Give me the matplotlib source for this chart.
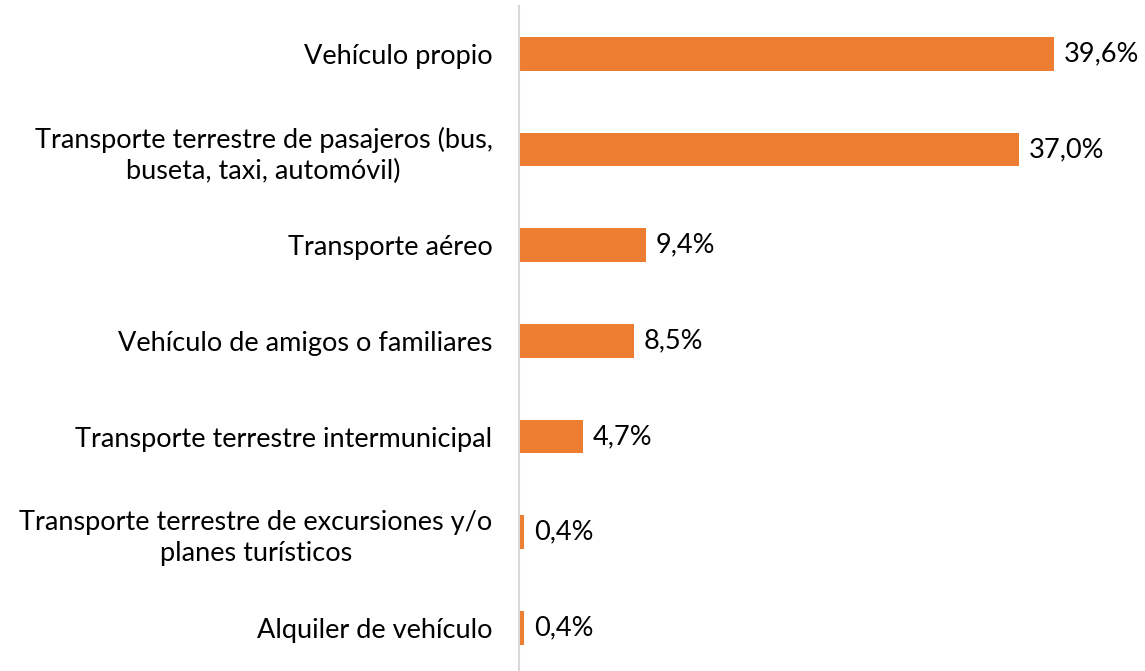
import matplotlib
matplotlib.use("Agg")
import matplotlib.pyplot as plt

# data
categories = [
    "Vehículo propio",
    "Transporte terrestre de pasajeros (bus,\nbuseta, taxi, automóvil)",
    "Transporte aéreo",
    "Vehículo de amigos o familiares",
    "Transporte terrestre intermunicipal",
    "Transporte terrestre de excursiones y/o\nplanes turísticos",
    "Alquiler de vehículo",
]
values = [39.6, 37.0, 9.4, 8.5, 4.7, 0.4, 0.4]

plt.rcParams['font.family'] = ['Lato', 'DejaVu Sans']

W, H = 1145, 671
fig = plt.figure(figsize=(W / 100, H / 100), dpi=100)
left = 519 / W
top = 6 / H
ax = fig.add_axes([left, -0.007, 1 - left, 1 - top + 0.007])

pos = list(range(len(categories)))
ax.barh(pos, values, height=0.35, color="#ED7D31")
ax.set_ylim(len(categories) - 0.5, -0.5)
ax.set_xlim(0, 46.3)

for y, v in zip(pos, values):
    ax.annotate(f"{v:.1f}%".replace(".", ","), (v, y), xytext=(7, 0),
                textcoords="offset points", va="center", ha="left",
                fontsize=19.5, color="black")

ax.set_yticks(pos)
ax.set_yticklabels(categories, fontsize=19.5, multialignment="center",
                   linespacing=1.3)
ax.tick_params(axis="y", length=0, pad=19)
ax.set_xticks([])

for s in ["top", "right", "bottom"]:
    ax.spines[s].set_visible(False)
ax.spines["left"].set_color("#D9D9D9")
ax.spines["left"].set_linewidth(1.5)

fig.savefig("out.png", dpi=100)
